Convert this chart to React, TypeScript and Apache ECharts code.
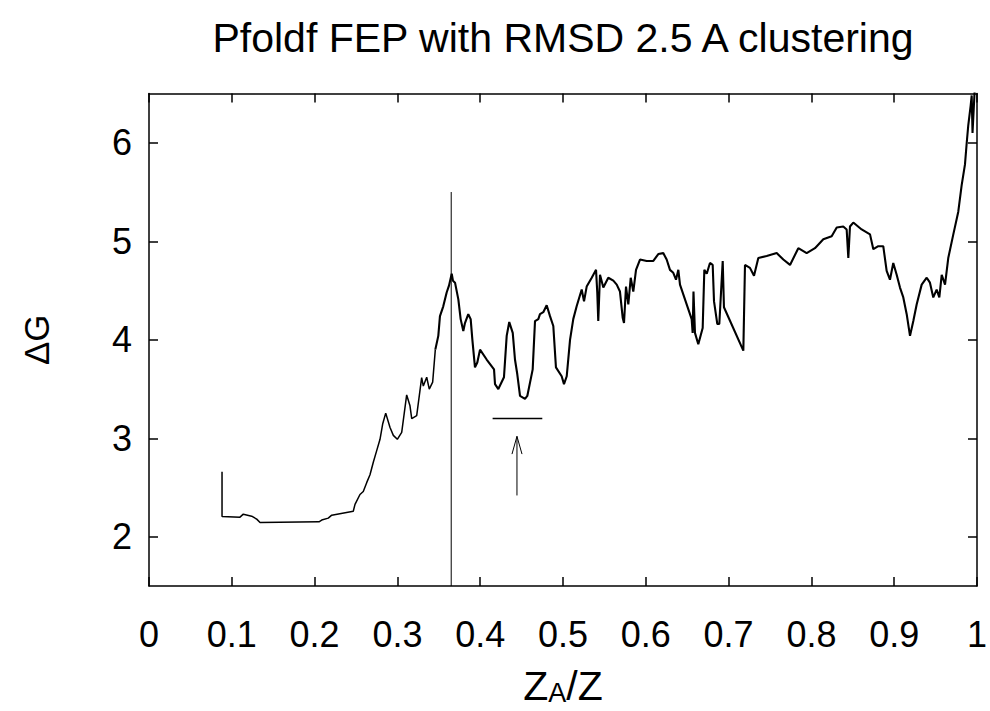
import React, { useEffect, useRef } from "react";
import * as echarts from "echarts";

const TITLE = "Pfoldf FEP with RMSD 2.5 A clustering";
const X_TICKS = [0, 0.1, 0.2, 0.3, 0.4, 0.5, 0.6, 0.7, 0.8, 0.9, 1];
const Y_TICKS = [2, 3, 4, 5, 6];

const zA = [
  0.0882, 0.0882, 0.1099, 0.1139, 0.124, 0.1301, 0.1341, 0.2053, 0.2086, 0.2165,
  0.2207, 0.2467, 0.2488, 0.2548, 0.2588, 0.2629, 0.2669, 0.2709, 0.275, 0.279,
  0.2822, 0.2859, 0.2911, 0.2951, 0.2999, 0.3052, 0.3112, 0.3152, 0.3173, 0.3233,
  0.3293, 0.3313, 0.3354, 0.3385, 0.3426, 0.3458, 0.3494, 0.3514, 0.3554, 0.3595,
  0.3623, 0.3656, 0.3671, 0.3696, 0.3736, 0.3764, 0.3796, 0.3816, 0.3856, 0.3885,
  0.3905, 0.3937, 0.3965, 0.3998, 0.4078, 0.4167, 0.4179, 0.4219, 0.4287, 0.432,
  0.4351, 0.4393, 0.442, 0.4448, 0.4481, 0.4541, 0.4569, 0.4634, 0.4662, 0.4702,
  0.4722, 0.4762, 0.4803, 0.4843, 0.4883, 0.4915, 0.4984, 0.5012, 0.5045, 0.5085,
  0.5124, 0.5165, 0.5226, 0.5254, 0.5286, 0.5347, 0.5399, 0.5414, 0.5426, 0.5447,
  0.5487, 0.5547, 0.5608, 0.5649, 0.5688, 0.5721, 0.5737, 0.5761, 0.5789, 0.5818,
  0.5849, 0.5882, 0.593, 0.6011, 0.6091, 0.6151, 0.6211, 0.6252, 0.6292, 0.6332,
  0.6365, 0.6393, 0.6413, 0.6554, 0.6566, 0.6576, 0.6594, 0.6634, 0.6687, 0.6707,
  0.6736, 0.6775, 0.6808, 0.6824, 0.6864, 0.6888, 0.6929, 0.6944, 0.7178, 0.7198,
  0.7258, 0.7307, 0.7359, 0.746, 0.7581, 0.7661, 0.7742, 0.7842, 0.7943, 0.8043,
  0.8144, 0.8245, 0.8306, 0.8385, 0.8426, 0.8446, 0.8466, 0.8506, 0.8607, 0.8708,
  0.8748, 0.8808, 0.8868, 0.8909, 0.8949, 0.8989, 0.903, 0.907, 0.911, 0.9151,
  0.9191, 0.9231, 0.9272, 0.9332, 0.9393, 0.9432, 0.9472, 0.9513, 0.9545, 0.9574,
  0.9614, 0.9653, 0.9714, 0.9774, 0.9815, 0.9855, 0.9876, 0.9895, 0.9924, 0.9936,
  0.9946, 0.9955, 0.9976,
];

const dG = [
  2.66, 2.207, 2.2, 2.23, 2.21, 2.18, 2.146, 2.153, 2.17, 2.19,
  2.22, 2.26, 2.33, 2.43, 2.46, 2.55, 2.63, 2.757, 2.875, 2.99,
  3.145, 3.256, 3.11, 3.03, 2.99, 3.06, 3.44, 3.33, 3.2, 3.23,
  3.617, 3.53, 3.62, 3.5, 3.57, 3.9, 4.04, 4.24, 4.34, 4.48,
  4.55, 4.67, 4.6, 4.58, 4.41, 4.21, 4.09, 4.17, 4.26, 4.21,
  4.005, 3.72, 3.77, 3.9, 3.8, 3.7, 3.55, 3.5, 3.62, 4.04,
  4.18, 4.07, 3.8, 3.65, 3.43, 3.4, 3.43, 3.7, 4.19, 4.21,
  4.26, 4.28, 4.35, 4.24, 4.14, 3.72, 3.63, 3.55, 3.63, 4.0,
  4.21, 4.34, 4.51, 4.39, 4.54, 4.63, 4.71, 4.48, 4.19, 4.66,
  4.53, 4.63, 4.6, 4.56, 4.49, 4.225, 4.17, 4.54, 4.36, 4.63,
  4.49, 4.71, 4.815, 4.8, 4.8, 4.87, 4.88, 4.815, 4.71, 4.68,
  4.61, 4.71, 4.56, 4.21, 4.07, 4.49, 4.07, 3.955, 4.12, 4.71,
  4.67, 4.78, 4.76, 4.39, 4.16, 4.16, 4.8, 4.33, 3.89, 4.76,
  4.73, 4.65, 4.83, 4.85, 4.88, 4.815, 4.76, 4.93, 4.88, 4.93,
  5.02, 5.05, 5.14, 5.15, 5.12, 4.83, 5.15, 5.19, 5.12, 5.07,
  4.92, 4.95, 4.95, 4.7, 4.61, 4.78, 4.66, 4.53, 4.43, 4.26,
  4.04, 4.19, 4.36, 4.56, 4.63, 4.58, 4.43, 4.51, 4.43, 4.66,
  4.56, 4.83, 5.07, 5.3, 5.57, 5.78, 6.0, 6.18, 6.38, 6.48,
  6.1, 6.25, 6.6,
];

// the curve is smooth up to this index and noisy (thicker) after it
const NOISY_FROM = 35;

const barrierX = [0.365, 0.365];
const barrierY = [1.5, 5.5];
const windowX = [0.415, 0.475];
const windowY = [3.2, 3.2];
const arrowShaftX = [0.4444, 0.4444];
const arrowShaftY = [2.42, 3.02];
const arrowHeadX = [0.4384, 0.4444, 0.4505];
const arrowHeadY = [2.84, 3.02, 2.84];

const FONT = "'Liberation Sans', Arial, Helvetica, sans-serif";
const pairs = (xs: number[], ys: number[]) => xs.map((x, i) => [x, ys[i]]);

export default function App() {
  const ref = useRef<HTMLDivElement>(null);
  useEffect(() => {
    if (!ref.current) return;
    const chart = echarts.init(ref.current, undefined, { renderer: "svg" });
    const axisLine = { show: true, onZero: false, lineStyle: { color: "#000", width: 1.5 } };
    const tick = (vals: number[]) => ({
      show: true,
      inside: true,
      length: 9,
      customValues: vals,
      lineStyle: { color: "#000", width: 1.5 },
    });
    const thin = (data: number[][], w: number) => ({
      type: "line",
      data,
      symbol: "none",
      showSymbol: false,
      silent: true,
      clip: true,
      lineStyle: { color: "#000", width: w },
    });
    const curve = pairs(zA, dG);
    chart.setOption({
      animation: false,
      backgroundColor: "#fff",
      title: {
        text: TITLE,
        left: 558,
        top: 12,
        textAlign: "center",
        textStyle: { fontSize: 41, fontWeight: "normal", color: "#000", fontFamily: FONT },
      },
      grid: { left: 149, right: 13, top: 93.5, bottom: 123.5, containLabel: false },
      xAxis: [
        {
          type: "value",
          min: 0,
          max: 1,
          interval: 0.1,
          position: "bottom",
          axisLine,
          axisTick: tick(X_TICKS),
          splitLine: { show: false },
          axisLabel: {
            customValues: X_TICKS,
            fontSize: 36,
            color: "#000",
            fontFamily: FONT,
            margin: 30,
            formatter: (v: number) => String(+v.toFixed(1)),
          },
          name: "{n|Z}{s|A}{n|/Z}",
          nameLocation: "middle",
          nameGap: 67,
          nameTextStyle: {
            rich: {
              n: { fontSize: 41, lineHeight: 41, color: "#000", fontFamily: FONT, verticalAlign: "top" },
              s: {
                fontSize: 27,
                lineHeight: 27,
                color: "#000",
                fontFamily: FONT,
                verticalAlign: "bottom",
                padding: [22, 0, 0, 0],
              },
            },
          },
        },
        {
          type: "value",
          min: 0,
          max: 1,
          interval: 0.1,
          position: "top",
          axisLine,
          axisTick: tick(X_TICKS),
          splitLine: { show: false },
          axisLabel: { show: false },
        },
      ],
      yAxis: [
        {
          type: "value",
          min: 1.5,
          max: 6.5,
          position: "left",
          axisLine,
          axisTick: tick(Y_TICKS),
          splitLine: { show: false },
          axisLabel: {
            customValues: Y_TICKS,
            fontSize: 36,
            color: "#000",
            fontFamily: FONT,
            margin: 17,
          },
          name: "ΔG",
          nameLocation: "middle",
          nameGap: 95,
          nameRotate: 90,
          nameTextStyle: { fontSize: 35, color: "#000", fontFamily: FONT },
        },
        {
          type: "value",
          min: 1.5,
          max: 6.5,
          position: "right",
          axisLine,
          axisTick: tick(Y_TICKS),
          splitLine: { show: false },
          axisLabel: { show: false },
        },
      ],
      series: [
        thin(curve.slice(0, NOISY_FROM + 1), 1.5),
        thin(curve.slice(NOISY_FROM), 2.1),
        thin(pairs(barrierX, barrierY), 1),
        thin(pairs(windowX, windowY), 1.5),
        thin(pairs(arrowShaftX, arrowShaftY), 1),
        thin(pairs(arrowHeadX, arrowHeadY), 1),
      ],
    });
    return () => chart.dispose();
  }, []);
  return (
    <div
      ref={ref}
      style={{ position: "absolute", left: 0, top: 0, width: 990, height: 711, background: "#fff" }}
    />
  );
}
